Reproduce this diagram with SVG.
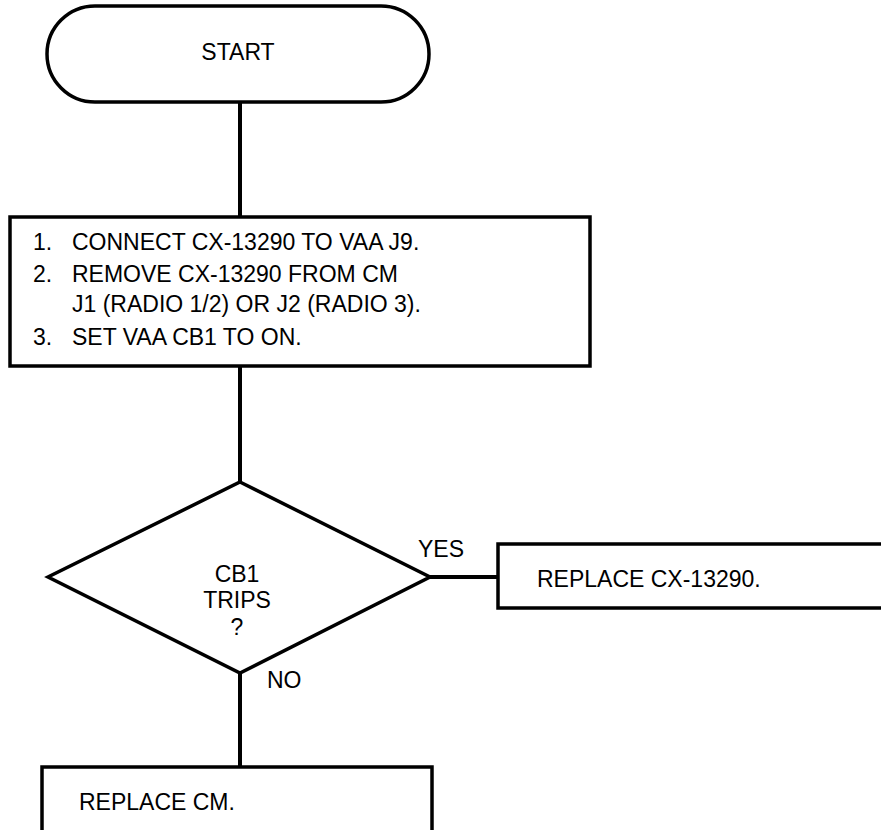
<svg xmlns="http://www.w3.org/2000/svg" width="881" height="830" viewBox="0 0 881 830">
  <style>
    .shape { fill: #ffffff; stroke: #000000; stroke-width: 3.5; stroke-linejoin: miter; }
    .wire { fill: none; stroke: #000000; stroke-width: 4; }
    .t { font-family: "Liberation Sans", Arial, Helvetica, sans-serif; font-size: 23px; fill: #000000; }
    .c { text-anchor: middle; }
  </style>
  <rect width="881" height="830" fill="#ffffff"/>

  <!-- flow lines -->
  <g id="connectors">
    <line class="wire" x1="240" y1="102" x2="240" y2="217"/>
    <line class="wire" x1="240" y1="366" x2="240" y2="482"/>
    <line class="wire" x1="430" y1="577" x2="498" y2="577"/>
    <line class="wire" x1="240" y1="673" x2="240" y2="767"/>
    <text class="t" x="418" y="557">YES</text>
    <text class="t" x="267" y="688">NO</text>
  </g>

  <g id="start">
    <rect class="shape" x="47" y="6" width="382" height="96" rx="48" ry="48"/>
    <text class="t c" x="238" y="60">START</text>
  </g>

  <g id="setup">
    <rect class="shape" x="10" y="217" width="580" height="149"/>
    <text class="t" x="33" y="250">1.</text>
    <text class="t" x="72" y="250">CONNECT CX-13290 TO VAA J9.</text>
    <text class="t" x="33" y="282">2.</text>
    <text class="t" x="72" y="282">REMOVE CX-13290 FROM CM</text>
    <text class="t" x="72" y="312">J1 (RADIO 1/2) OR J2 (RADIO 3).</text>
    <text class="t" x="33" y="345">3.</text>
    <text class="t" x="72" y="345">SET VAA CB1 TO ON.</text>
  </g>

  <g id="decision">
    <polygon class="shape" points="240,482 430,577 240,673 48,577"/>
    <text class="t c" x="237" y="582">CB1</text>
    <text class="t c" x="237" y="608">TRIPS</text>
    <text class="t c" x="237" y="635">?</text>
  </g>

  <g id="replace-cx">
    <rect class="shape" x="498" y="544" width="400" height="64"/>
    <text class="t" x="537" y="587">REPLACE CX-13290.</text>
  </g>

  <g id="replace-cm">
    <rect class="shape" x="42" y="767" width="390" height="80"/>
    <text class="t" x="79" y="810">REPLACE CM.</text>
  </g>
</svg>
